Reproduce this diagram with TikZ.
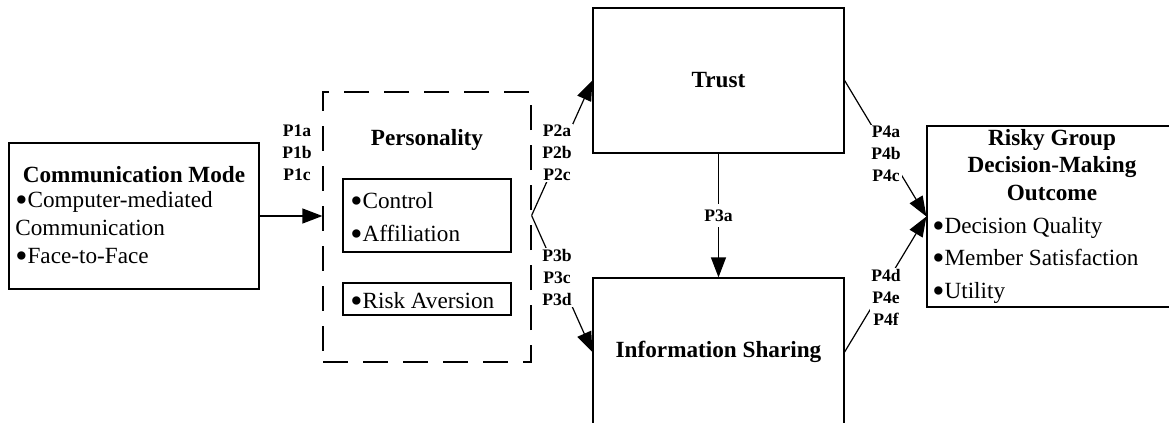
\documentclass[tikz,border=0pt]{standalone}
\usepackage{fontspec}
\setmainfont{Liberation Serif}
\usetikzlibrary{arrows.meta}
\usetikzlibrary{calc}
\newcommand{\bigdot}{\raisebox{-0.2em}{\scalebox{1.5}{\textbullet}}}
\tikzstyle{box} = [draw=black, line width=0.6pt, rectangle, inner sep=0pt]
\tikzstyle{dashbox} = [box, dash pattern=on 12.5pt off 7.5pt]
\tikzstyle{link} = [line width=0.6pt, -{Triangle[length=10pt,width=7.5pt]}]
\tikzstyle{txt} = [inner sep=0pt, font=\fontsize{11.6}{14}\selectfont]
\tikzstyle{head} = [inner sep=0pt, font=\fontsize{11.6}{14}\selectfont\bfseries]
\tikzstyle{plabel} = [fill=white, inner sep=0.5pt, align=center, font=\fontsize{8.8}{11}\selectfont\bfseries]

\begin{document}
\begin{tikzpicture}[x=0.5pt,y=-0.5pt]
    \useasboundingbox (0,0) rectangle (1169,423);

    %% communication mode
    \node[box, minimum width=125pt, minimum height=73pt] (comm) at (134,216) {};
    \node[head, anchor=base] (commtitle) at (134,182) {Communication Mode};
    \node[txt, anchor=base west, align=left] (cmc) at (15,235) {\bigdot Computer-mediated\\Communication};
    \node[txt, anchor=base west] (ftf) at (15,263) {\bigdot Face-to-Face};

    %% personality
    \node[dashbox, minimum width=104pt, minimum height=135pt] (pers) at (427,227) {};
    \node[head, anchor=base] (perstitle) at (427,145) {Personality};
    \node[box, minimum width=84pt, minimum height=36.5pt] (ctrlbox) at (427,215.5) {};
    \node[txt, anchor=base west] (ctrl) at (350,208) {\bigdot Control};
    \node[txt, anchor=base west] (affil) at (350,241) {\bigdot Affiliation};
    \node[box, minimum width=84pt, minimum height=16pt] (riskbox) at (427,299) {};
    \node[txt, anchor=base west] (risk) at (350,308) {\bigdot Risk Aversion};
    \coordinate (fork) at (ctrlbox.east -| pers.east);

    %% trust and information sharing
    \node[box, head, minimum width=125.5pt, minimum height=72.5pt] (trust) at (718.5,80.5) {Trust};
    \node[box, head, minimum width=125.5pt, minimum height=74pt] (info) at (718.5,352) {Information Sharing};

    %% outcome
    \node[box, minimum width=125pt, minimum height=90.5pt] (outcome) at (1052,216.5) {};
    \node[head, anchor=base] (outa) at (1052,145) {Risky Group};
    \node[head, anchor=base] (outb) at (1052,172) {Decision-Making};
    \node[head, anchor=base] (outc) at (1052,200) {Outcome};
    \node[txt, anchor=base west] (quality) at (932,233) {\bigdot Decision Quality};
    \node[txt, anchor=base west] (satisf) at (932,265) {\bigdot Member Satisfaction};
    \node[txt, anchor=base west] (utility) at (932,298) {\bigdot Utility};

    \draw[link] (comm.east) -- (comm.east -| pers.west);
    \draw[link] (fork) -- (trust.west);
    \draw[link] (fork) -- (info.west);
    \draw[link] (trust) -- node[plabel, inner sep=3pt] (pthree) {P3a} (info);
    \draw[link] (trust.east) -- (outcome.west);
    \draw[link] (info.east) -- (outcome.west);

    \node[plabel] (pone) at (297,153) {P1a\\P1b\\P1c};
    \node[plabel] (ptwo) at (557,153) {P2a\\P2b\\P2c};
    \node[plabel] (pthreeb) at (557,277.5) {P3b\\P3c\\P3d};
    \node[plabel] (pfoura) at (886,153.5) {P4a\\P4b\\P4c};
    \node[plabel] (pfourd) at (886,297.5) {P4d\\P4e\\P4f};
\end{tikzpicture}
\end{document}
